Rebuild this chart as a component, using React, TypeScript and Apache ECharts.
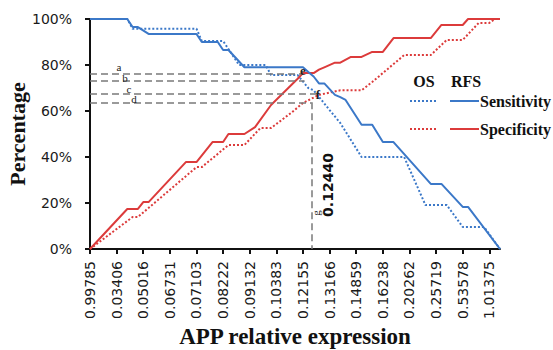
import React, { useEffect, useRef } from "react";
import * as echarts from "echarts";

// Tick labels of the x axis (one every 5 thresholds)
const tickLabels = [
  "0.99785", "0.03406", "0.05016", "0.06731", "0.07103", "0.08222", "0.09132", "0.10383",
  "0.12155", "0.13166", "0.14859", "0.16238", "0.20262", "0.25719", "0.53578", "1.01375",
];
const labelStep = 5;
const lastIndex = 77;

// [threshold index, percentage]
const rfsSensitivity: [number, number][] = [
  [0, 100], [7, 100], [8, 96.5], [9, 96.5], [11, 93.5], [20, 93.5], [21, 90], [24, 90],
  [25, 86.5], [26, 86.5], [29, 79], [40, 79], [41, 77], [42, 75], [43, 72], [44, 72],
  [46, 67], [47, 66], [48, 64.8], [51, 54], [53, 54], [55, 46.5], [57, 46.5], [64, 28.3],
  [66, 28.3], [70, 18.3], [71, 18.3], [77, 0],
];
const osSensitivity: [number, number][] = [
  [0, 100], [7, 100], [8, 95.8], [20, 95.8], [21, 90.4], [25, 90.4], [28, 80], [33, 80],
  [34, 75.6], [39, 75.6], [41, 70], [42, 69], [45, 60.4], [47, 54.8], [51, 40], [59, 40],
  [63, 19.1], [67, 19.1], [70, 9.6], [74, 9.6], [77, 0],
];
const rfsSpecificity: [number, number][] = [
  [0, 0], [7, 17.4], [9, 17.4], [10, 20.4], [11, 20.4], [18, 37.8], [20, 37.8], [23, 46.5],
  [25, 46.5], [26, 50], [29, 50], [31, 53], [34, 62.6], [39, 74], [40, 76.5], [42, 76.5],
  [43, 78], [44, 79], [46, 81], [47, 81], [49, 83.5], [51, 83.5], [53, 85.7], [55, 85.7],
  [57, 91.7], [64, 91.7], [66, 97.4], [70, 97.4], [71, 100], [77, 100],
];
const osSpecificity: [number, number][] = [
  [0, 0], [8, 13.9], [9, 13.9], [20, 35.6], [21, 35.6], [26, 45.2], [29, 45.2], [32, 52.6],
  [34, 52.6], [38, 59.6], [40, 63.5], [43, 67], [47, 69], [51, 69], [53, 72.6], [59, 84.3],
  [64, 84.3], [67, 90.9], [70, 90.9], [73, 98.3], [75, 98.3], [76, 100], [77, 100],
];

// Reference (dashed) lines a-d and the cut-off g
const refNames = ["a", "b", "c", "d"];
const refLevels = [76.4, 73.2, 67.7, 63.8];
const refEnds = [40, 40.3, 42.5, 41.6];
const cutoffIndex = 41.6;
const cutoffLevel = 63.8;
const cutoffLabel = "0.12440";

const BLUE = "#3b78c8";
const RED = "#dc3b3b";
const SERIF = '"Liberation Serif", "Times New Roman", serif';
const SANS = '"DejaVu Sans", sans-serif';

export default function App() {
  const ref = useRef<HTMLDivElement>(null);
  useEffect(() => {
    if (!ref.current) return;
    const chart = echarts.init(ref.current, undefined, { renderer: "svg" });
    const tickValues = tickLabels.map((_, i) => i * labelStep);
    const markData: any[] = refLevels.map((y, i) => [
      { coord: [0, y] },
      { coord: [refEnds[i], y] },
    ]);
    markData.push([{ coord: [cutoffIndex, cutoffLevel] }, { coord: [cutoffIndex, 0] }]);

    const letterText = (t: string, x: number, y: number, size: number, bold = false, rot = 0) => ({
      type: "text",
      x,
      y,
      rotation: rot,
      z: 50,
      style: {
        text: t,
        fill: "#222",
        font: `${bold ? "bold " : ""}${size}px ${SERIF}`,
        textAlign: "center",
        textVerticalAlign: "middle",
        align: "center",
        verticalAlign: "middle",
      },
    });

    const legendLine = (x1: number, x2: number, y: number, color: string, dotted: boolean) => ({
      type: "line",
      z: 50,
      shape: { x1, y1: y, x2, y2: y },
      style: { stroke: color, lineWidth: 2, lineDash: dotted ? [2, 2] : null },
    });

    const legendText = (t: string, x: number, y: number, align = "left") => ({
      type: "text",
      x,
      y,
      z: 50,
      style: {
        text: t,
        fill: "#111",
        font: `bold 16px ${SERIF}`,
        textAlign: align,
        textVerticalAlign: "middle",
        align,
        verticalAlign: "middle",
      },
    });

    chart.setOption({
      animation: false,
      grid: { left: 90, right: 53, top: 19, bottom: 101, containLabel: false, outerBoundsMode: "none" },
      xAxis: {
        type: "value",
        min: 0,
        max: lastIndex,
        interval: labelStep,
        name: "APP relative expression",
        nameLocation: "middle",
        nameGap: 76,
        nameMoveOverlap: false,
        nameTextStyle: { fontFamily: SERIF, fontWeight: "bold", fontSize: 23, color: "#111" },
        axisLine: { show: true, lineStyle: { color: "#111", width: 2 } },
        axisTick: { show: true, length: 5, customValues: tickValues, lineStyle: { color: "#111", width: 2 } },
        axisLabel: {
          customValues: tickValues,
          rotate: 90,
          margin: 12,
          fontFamily: SANS,
          fontSize: 14,
          color: "#1a1a1a",
          formatter: (v: number) => (v % labelStep === 0 ? tickLabels[v / labelStep] ?? "" : ""),
        },
        splitLine: { show: false },
      },
      yAxis: {
        type: "value",
        min: 0,
        max: 100,
        interval: 20,
        name: "Percentage",
        nameLocation: "middle",
        nameGap: 62,
        nameMoveOverlap: false,
        nameTextStyle: { fontFamily: SERIF, fontWeight: "bold", fontSize: 22, color: "#111" },
        axisLine: { show: true, lineStyle: { color: "#111", width: 2 } },
        axisTick: { show: true, length: 5, lineStyle: { color: "#111", width: 2 } },
        axisLabel: {
          margin: 18,
          fontFamily: SANS,
          fontSize: 14,
          color: "#1a1a1a",
          formatter: "{value}%",
        },
        splitLine: { show: false },
      },
      series: [
        {
          name: "OS Sensitivity",
          type: "line",
          data: osSensitivity,
          symbol: "none",
          z: 3,
          lineStyle: { color: BLUE, width: 2, type: [2, 2] },
        },
        {
          name: "OS Specificity",
          type: "line",
          data: osSpecificity,
          symbol: "none",
          z: 3,
          lineStyle: { color: RED, width: 2, type: [2, 2] },
        },
        {
          name: "RFS Specificity",
          type: "line",
          data: rfsSpecificity,
          symbol: "none",
          z: 4,
          lineStyle: { color: RED, width: 2 },
        },
        {
          name: "RFS Sensitivity",
          type: "line",
          data: rfsSensitivity,
          symbol: "none",
          z: 5,
          lineStyle: { color: BLUE, width: 2 },
          markLine: {
            silent: true,
            symbol: ["none", "none"],
            label: { show: false },
            lineStyle: { color: "#7a7a7a", width: 1.5, type: [7, 4] },
            data: markData,
          },
        },
      ],
      graphic: [
        letterText(refNames[0], 119, 67, 11),
        letterText(refNames[1], 125, 78, 11),
        letterText(refNames[2], 129, 89, 11),
        letterText(refNames[3], 134, 99, 11),
        letterText("e", 303, 70, 13, true),
        letterText("f", 318, 94, 13, true),
        letterText("g", 316, 213, 11, false, Math.PI / 2),
        {
          type: "text",
          x: 328,
          y: 185,
          rotation: Math.PI / 2,
          z: 50,
          style: {
            text: cutoffLabel,
            fill: "#111",
            font: `bold 14px ${SANS}`,
            textAlign: "center",
            textVerticalAlign: "middle",
            align: "center",
            verticalAlign: "middle",
          },
        },
        legendText("OS", 424, 81, "center"),
        legendText("RFS", 466, 81, "center"),
        legendLine(410, 437, 101, BLUE, true),
        legendLine(450, 479, 101, BLUE, false),
        legendText("Sensitivity", 480, 101),
        legendLine(410, 437, 129, RED, true),
        legendLine(450, 479, 129, RED, false),
        legendText("Specificity", 480, 129),
      ],
    });
    return () => chart.dispose();
  }, []);
  return (
    <div
      ref={ref}
      style={{ position: "fixed", left: 0, top: 0, width: 553, height: 350, background: "#fff" }}
    />
  );
}
